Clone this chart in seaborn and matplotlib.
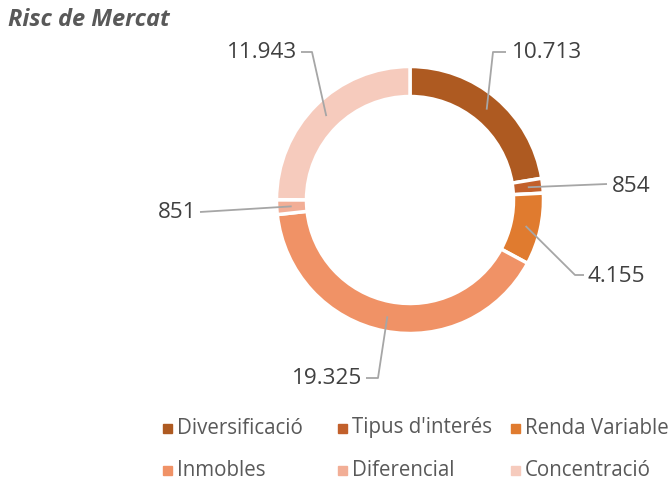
import matplotlib
matplotlib.use("Agg")
import matplotlib.pyplot as plt
from matplotlib.patches import Rectangle
import seaborn as sns
import numpy as np

sns.set_theme(style="white")
plt.rcParams['font.family'] = ['Open Sans', 'DejaVu Sans']

categories = ["Diversificació", "Tipus d'interés", "Renda Variable",
              "Inmobles", "Diferencial", "Concentració"]
values = [10713, 854, 4155, 19325, 851, 11943]
value_labels = ["10.713", "854", "4.155", "19.325", "851", "11.943"]
colors = ["#AE5A21", "#C2602B", "#E07B2F", "#F09266", "#F2AE96", "#F6CBBD"]

W, H = 672, 483
fig = plt.figure(figsize=(W / 100, H / 100), dpi=100)

# donut center (410, 200) px from top; 100 px per data unit
cx, cy = 410, 200
S = 300
ax = fig.add_axes([(cx - S / 2) / W, (H - cy - S / 2) / H, S / W, S / H])
ax.axis("off")

R = 1.335
wedges, _ = ax.pie(values, colors=colors, radius=R, startangle=90, counterclock=False,
                   wedgeprops=dict(width=0.30, edgecolor="white", linewidth=2.5))
ax.set_xlim(-1.5, 1.5)
ax.set_ylim(-1.5, 1.5)
ax.set_aspect("equal")

def px(x, y):
    return ((x - cx) / 100.0, (cy - y) / 100.0)

total = float(sum(values))
cum = np.cumsum([0] + values[:-1]) / total
mids = cum + np.array(values) / total / 2
r_anchor = R - 0.15
leaders = [
    ([(493, 52), (506, 52)], (512, 52), "left"),
    ([(607, 184)], (612, 186), "left"),
    ([(575, 275), (584, 275)], (588, 276), "left"),
    ([(378, 378), (366, 378)], (362, 378), "right"),
    ([(200, 212)], (196, 212), "right"),
    ([(312, 52), (301, 52)], (297, 52), "right"),
]
for i, (pts, tpos, ha) in enumerate(leaders):
    ang = np.deg2rad(90 - mids[i] * 360)
    x0, y0 = r_anchor * np.cos(ang), r_anchor * np.sin(ang)
    xs = [x0] + [px(*p)[0] for p in pts]
    ys = [y0] + [px(*p)[1] for p in pts]
    ax.plot(xs, ys, color="#A6A6A6", lw=1.3, clip_on=False, solid_capstyle="butt")
    tx, ty = px(*tpos)
    ax.text(tx, ty, value_labels[i], ha=ha, va="center", fontsize=16.2,
            color="#404040", clip_on=False)

fig.text(8 / W, 1 - 20 / H, "Risc de Mercat", fontsize=17, fontweight="bold",
         fontstyle="italic", color="#595959", ha="left", va="center")

leg_pos = [(163, 428), (338, 428), (511, 428), (163, 470), (338, 470), (511, 470)]
for (lx, ly), c, lab in zip(leg_pos, colors, categories):
    sq = 9
    fig.patches.append(Rectangle(((lx) / W, 1 - (ly + sq / 2) / H), sq / W, sq / H,
                                 transform=fig.transFigure, color=c, figure=fig))
    fig.text((lx + 14) / W, 1 - ly / H, lab, fontsize=14.8, color="#595959",
             ha="left", va="center")

fig.savefig("out.png", dpi=100)
